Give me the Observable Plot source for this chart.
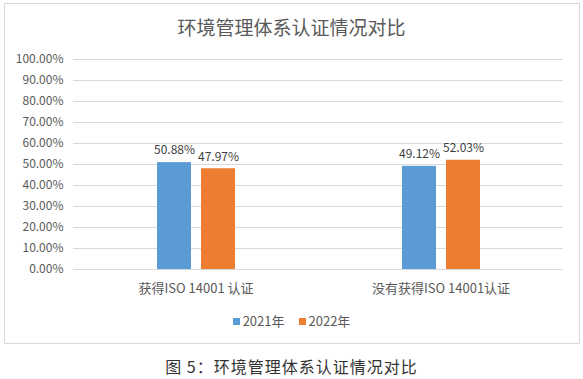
<!DOCTYPE html>
<html>
<head>
<meta charset="utf-8">
<script src="https://cdn.jsdelivr.net/npm/d3@7"></script>
<script src="https://cdn.jsdelivr.net/npm/@observablehq/plot@0.6"></script>
<style>
  html, body { margin: 0; padding: 0; background: #fff; }
  body { width: 583px; height: 379px; position: relative; overflow: hidden;
         font-family: "Noto Sans CJK SC", "Noto Sans", sans-serif; }
  #frame { position: absolute; left: 4px; top: 3px; width: 576px; height: 341px;
           border: 1px solid #d9d9d9; box-sizing: border-box; }
  #title { position: absolute; left: 0; top: 13px; width: 583px; text-align: center;
           font-size: 19px; line-height: 28px; color: #595959; }
  #chart { position: absolute; left: 0; top: 0; }
  #legend { position: absolute; left: 0; top: 312px; width: 583px; text-align: center;
            font-size: 13px; line-height: 18px; color: #595959; }
  #legend span.item { display: inline-block; margin: 0 7px; }
  #legend span.sw { display: inline-block; width: 7px; height: 7px; margin-right: 3px; vertical-align: 1px; }
  #caption { position: absolute; left: 0; top: 354px; width: 583px; text-align: center;
             font-size: 16px; line-height: 24px; color: #333; letter-spacing: 1px; }
</style>
</head>
<body>
<div id="frame"></div>
<div id="title">环境管理体系认证情况对比</div>
<div id="chart"></div>
<div id="legend"></div>
<div id="caption">图 5：环境管理体系认证情况对比</div>
<script>
const categories = ["获得ISO 14001 认证", "没有获得ISO 14001认证"];
const years = ["2021年", "2022年"];
const values2021 = [0.5088, 0.4912];
const values2022 = [0.4797, 0.5203];
const yTicks = [0, 0.1, 0.2, 0.3, 0.4, 0.5, 0.6, 0.7, 0.8, 0.9, 1.0];
const colors = ["#5B9BD5", "#ED7D31"];

const data = [];
categories.forEach((c, i) => {
  data.push({cat: c, year: years[0], value: values2021[i]});
  data.push({cat: c, year: years[1], value: values2022[i]});
});

const fmt = d => (d * 100).toFixed(2) + "%";

const chart = Plot.plot({
  width: 583,
  height: 300,
  marginLeft: 72,
  marginRight: 20,
  marginTop: 59,
  marginBottom: 31,
  style: {fontFamily: '"Noto Sans CJK SC", "Noto Sans", sans-serif', fontSize: "12px", color: "#595959", background: "transparent"},
  fx: {domain: categories, padding: 0},
  x: {domain: years, paddingInner: 0.23, paddingOuter: 1.85, axis: null},
  y: {domain: [0, 1]},
  color: {domain: years, range: colors},
  marks: [
    Plot.ruleY(yTicks, {stroke: "#d9d9d9", strokeWidth: 1}),
    Plot.axisY(yTicks, {tickSize: 0, tickPadding: 10, tickFormat: fmt, label: null, fontSize: 12, fill: "#595959"}),
    Plot.axisFx({anchor: "bottom", tickSize: 0, tickPadding: 14, label: null, fontSize: 13, fill: "#595959"}),
    Plot.barY(data, {fx: "cat", x: "year", y: "value", fill: "year"}),
    Plot.text(data, {fx: "cat", x: "year", y: "value", text: d => fmt(d.value), dy: -12, fontSize: 12, fill: "#404040"})
  ]
});
document.getElementById("chart").appendChild(chart);

const legend = document.getElementById("legend");
years.forEach((y, i) => {
  const item = document.createElement("span");
  item.className = "item";
  const sw = document.createElement("span");
  sw.className = "sw";
  sw.style.background = colors[i];
  item.appendChild(sw);
  item.appendChild(document.createTextNode(y));
  legend.appendChild(item);
});
</script>
</body>
</html>
